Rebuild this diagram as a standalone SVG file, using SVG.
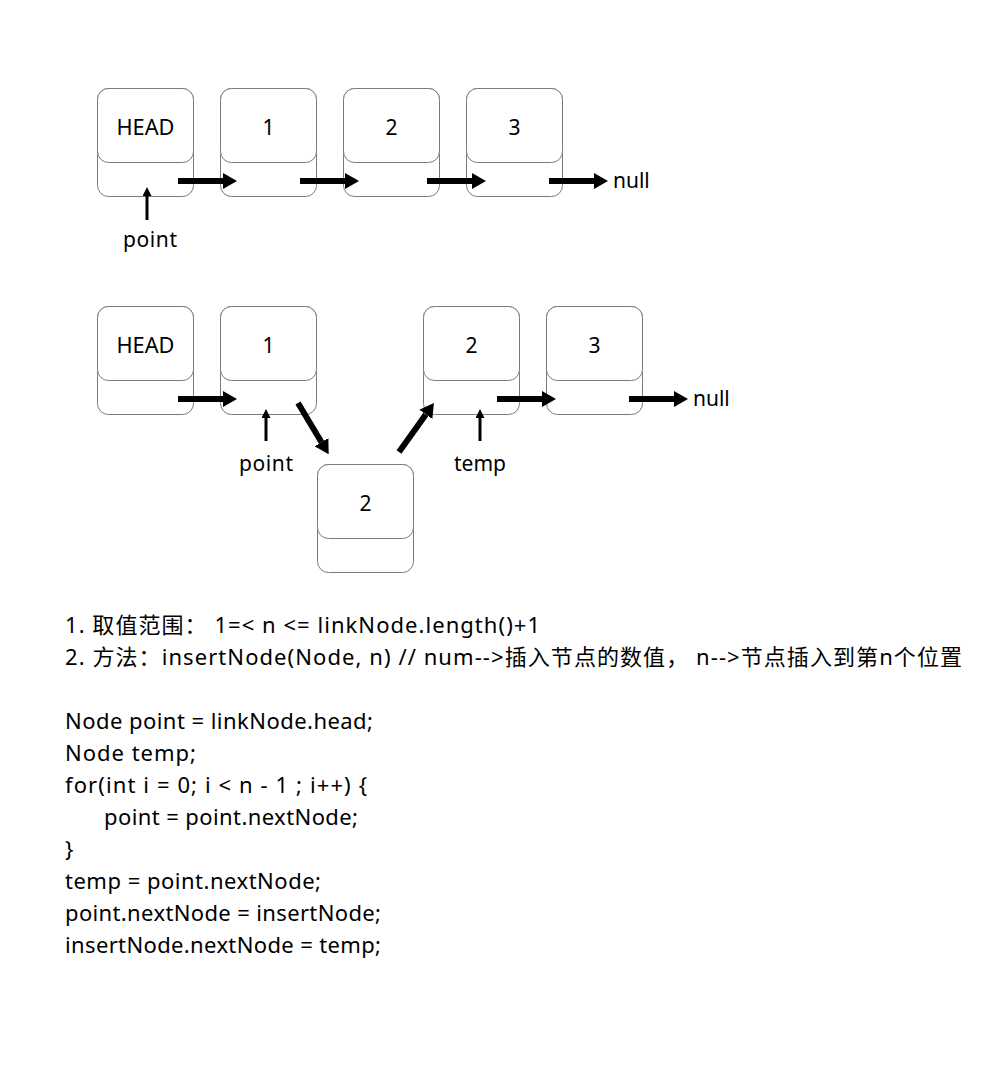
<svg xmlns="http://www.w3.org/2000/svg" width="1004" height="1068" viewBox="0 0 1004 1068">
<style>
.box{fill:#fff;stroke:#7a7a7a;stroke-width:1}
.t{font-family:"Noto Sans","Noto Sans CJK SC",sans-serif;font-size:21px;fill:#000}
.n{font-size:22px}
.c{text-anchor:middle}
.thick{stroke:#000;stroke-width:6;fill:none}
.thin{stroke:#000;stroke-width:3;fill:none}
</style>
<defs>
<marker id="ah" markerUnits="userSpaceOnUse" markerWidth="14" markerHeight="16" refX="0" refY="8" orient="auto"><path d="M0,0 L14,8 L0,16 z" fill="#000"/></marker>
<marker id="ahs" markerUnits="userSpaceOnUse" markerWidth="9" markerHeight="9" refX="0" refY="4.5" orient="auto"><path d="M0,0 L9,4.5 L0,9 z" fill="#000"/></marker>
</defs>
<rect width="1004" height="1068" fill="#fff"/>
<g id="r1-head"><rect class="box" x="97.5" y="88.5" width="96" height="108" rx="11"/><rect class="box" x="97.5" y="88.5" width="96" height="74" rx="11"/><text class="t c" x="145.5" y="135" textLength="58" lengthAdjust="spacingAndGlyphs">HEAD</text></g>
<g id="r1-n1"><rect class="box" x="220.5" y="88.5" width="96" height="108" rx="11"/><rect class="box" x="220.5" y="88.5" width="96" height="74" rx="11"/><text class="t c" x="268.5" y="135">1</text></g>
<g id="r1-n2"><rect class="box" x="343.5" y="88.5" width="96" height="108" rx="11"/><rect class="box" x="343.5" y="88.5" width="96" height="74" rx="11"/><text class="t c" x="391.5" y="135">2</text></g>
<g id="r1-n3"><rect class="box" x="466.5" y="88.5" width="96" height="108" rx="11"/><rect class="box" x="466.5" y="88.5" width="96" height="74" rx="11"/><text class="t c" x="514.5" y="135">3</text></g>
<g id="r1-null"><text class="t" x="613" y="188">null</text></g>
<g id="r1-point"><text class="t c" x="150" y="247" textLength="54">point</text></g>

<g id="r2-head"><rect class="box" x="97.5" y="306.5" width="96" height="108" rx="11"/><rect class="box" x="97.5" y="306.5" width="96" height="74" rx="11"/><text class="t c" x="145.5" y="353" textLength="58" lengthAdjust="spacingAndGlyphs">HEAD</text></g>
<g id="r2-n1"><rect class="box" x="220.5" y="306.5" width="96" height="108" rx="11"/><rect class="box" x="220.5" y="306.5" width="96" height="74" rx="11"/><text class="t c" x="268.5" y="353">1</text></g>
<g id="r2-n2"><rect class="box" x="423.5" y="306.5" width="96" height="108" rx="11"/><rect class="box" x="423.5" y="306.5" width="96" height="74" rx="11"/><text class="t c" x="471.5" y="353">2</text></g>
<g id="r2-n3"><rect class="box" x="546.5" y="306.5" width="96" height="108" rx="11"/><rect class="box" x="546.5" y="306.5" width="96" height="74" rx="11"/><text class="t c" x="594.5" y="353">3</text></g>
<g id="r2-ins"><rect class="box" x="317.5" y="464.5" width="96" height="108" rx="11"/><rect class="box" x="317.5" y="464.5" width="96" height="74" rx="11"/><text class="t c" x="365.5" y="511">2</text></g>
<g id="r2-null"><text class="t" x="693" y="406">null</text></g>
<g id="r2-point"><text class="t c" x="266" y="471" textLength="54">point</text></g>
<g id="r2-temp"><text class="t c" x="480" y="471">temp</text></g>

<g id="connectors">
<line class="thick" x1="178" y1="181" x2="223" y2="181" marker-end="url(#ah)"/>
<line class="thick" x1="300" y1="181" x2="345" y2="181" marker-end="url(#ah)"/>
<line class="thick" x1="427" y1="181" x2="472" y2="181" marker-end="url(#ah)"/>
<line class="thick" x1="549" y1="181" x2="594" y2="181" marker-end="url(#ah)"/>
<line class="thin" x1="147" y1="220" x2="147" y2="196" marker-end="url(#ahs)"/>
<line class="thick" x1="178" y1="399" x2="223" y2="399" marker-end="url(#ah)"/>
<line class="thick" x1="497" y1="399" x2="542" y2="399" marker-end="url(#ah)"/>
<line class="thick" x1="629" y1="399" x2="674" y2="399" marker-end="url(#ah)"/>
<line class="thin" x1="266" y1="441" x2="266" y2="418" marker-end="url(#ahs)"/>
<line class="thin" x1="480" y1="441" x2="480" y2="418" marker-end="url(#ahs)"/>
<line class="thick" x1="298" y1="403" x2="321.5" y2="442.2" marker-end="url(#ah)"/>
<line class="thick" x1="399" y1="452" x2="425.8" y2="414.4" marker-end="url(#ah)"/>
</g>

<g id="notes" class="n">
<text class="t n" x="65" y="633" textLength="475">1. 取值范围： 1=&lt; n &lt;= linkNode.length()+1</text>
<text class="t n" x="65" y="665" textLength="897">2. 方法：insertNode(Node, n) // num--&gt;插入节点的数值， n--&gt;节点插入到第n个位置</text>
<text class="t n" x="65" y="729" textLength="308">Node point = linkNode.head;</text>
<text class="t n" x="65" y="761" textLength="131">Node temp;</text>
<text class="t n" x="65" y="793" textLength="302">for(int i = 0; i &lt; n - 1 ; i++) {</text>
<text class="t n" x="104" y="825" textLength="254">point = point.nextNode;</text>
<text class="t n" x="65" y="857">}</text>
<text class="t n" x="65" y="889" textLength="256">temp = point.nextNode;</text>
<text class="t n" x="65" y="921" textLength="316">point.nextNode = insertNode;</text>
<text class="t n" x="65" y="953" textLength="316">insertNode.nextNode = temp;</text>
</g>
</svg>
